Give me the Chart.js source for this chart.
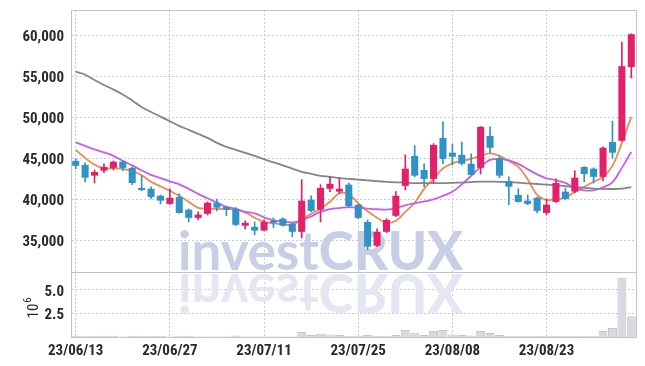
<!DOCTYPE html>
<html>
<head>
<meta charset="utf-8">
<script src="https://cdn.jsdelivr.net/npm/chart.js@4"></script>
<style>
  html, body { margin: 0; padding: 0; background: #fff; }
  #wrap { width: 645px; height: 366px; }
</style>
</head>
<body>
<div id="wrap"><canvas id="chart" width="645" height="366"></canvas></div>
<script>
// trading days shown on the x axis
const dates = [
  '23/06/13', '23/06/14', '23/06/15', '23/06/16', '23/06/19', '23/06/20', '23/06/21', '23/06/22', '23/06/23', '23/06/26',
  '23/06/27', '23/06/28', '23/06/29', '23/06/30', '23/07/03', '23/07/04', '23/07/05', '23/07/06', '23/07/07', '23/07/10',
  '23/07/11', '23/07/12', '23/07/13', '23/07/14', '23/07/17', '23/07/18', '23/07/19', '23/07/20', '23/07/21', '23/07/24',
  '23/07/25', '23/07/26', '23/07/27', '23/07/28', '23/07/31', '23/08/01', '23/08/02', '23/08/03', '23/08/04', '23/08/07',
  '23/08/08', '23/08/09', '23/08/10', '23/08/11', '23/08/14', '23/08/16', '23/08/17', '23/08/18', '23/08/21', '23/08/22',
  '23/08/23', '23/08/24', '23/08/25', '23/08/28', '23/08/29', '23/08/30', '23/08/31', '23/09/01', '23/09/04', '23/09/05'
];

const opens = [
  44650, 44150, 42850, 43450, 43800, 44550, 43800, 41350, 41250, 40400,
  39400, 40250, 38700, 37700, 38200, 39550, 39050, 38800, 36750, 36600,
  36150, 37350, 37600, 37000, 36000, 39900, 38700, 41250, 40900, 41750,
  39300, 37200, 34300, 36000, 37950, 41600, 45250, 43550, 42450, 47450,
  45650, 45400, 44300, 43800, 47700, 45000, 42200, 40500, 39800, 40150,
  38300, 39650, 40900, 40900, 43900, 43700, 42700, 46950, 47100, 56100
];
const closes = [
  44050, 42600, 43300, 43900, 44550, 43800, 41950, 41100, 40250, 39800,
  40150, 38300, 37700, 38100, 39550, 38950, 38700, 36850, 37100, 36150,
  37200, 37100, 36750, 36000, 39800, 38550, 41350, 41850, 41250, 39150,
  37700, 34200, 36000, 37450, 40400, 43700, 42850, 42450, 46600, 44900,
  45150, 44300, 42950, 48800, 46250, 42850, 41500, 39650, 39400, 38550,
  39300, 41950, 40000, 42600, 43050, 42700, 46250, 45650, 56200, 60100
];
const highs = [
  44900, 44400, 43550, 44300, 44650, 44650, 43900, 42850, 41500, 40500,
  41250, 40650, 38800, 38450, 39650, 40000, 39100, 38950, 37350, 37200,
  37450, 37700, 37700, 37100, 42350, 40400, 41750, 42700, 42600, 41950,
  39350, 37450, 36350, 37600, 40900, 45400, 46500, 44300, 46750, 49400,
  46700, 46950, 45500, 48850, 48800, 45250, 42700, 41250, 40500, 40200,
  40000, 42450, 41350, 43450, 43950, 43800, 46350, 49500, 59150, 60150
];
const lows = [
  43700, 42100, 41950, 43200, 43550, 43450, 41750, 41000, 40000, 39400,
  39350, 38250, 37200, 37450, 38050, 38550, 37950, 36750, 36350, 35650,
  36100, 36500, 36700, 35400, 35250, 38450, 37200, 40900, 40650, 39050,
  37600, 33800, 34200, 35900, 37850, 41100, 42700, 41500, 41950, 44300,
  44150, 44150, 42900, 43050, 45650, 42600, 39300, 39600, 39300, 38300,
  38050, 39600, 39900, 40750, 42100, 41950, 42200, 45000, 47050, 54750
];

// moving averages
const ma5 = [
  45990, 45020, 44170, 43740, 43740, 43680, 43430, 42890, 42100, 41550,
  41000, 40390, 39660, 38930, 38810, 38810, 38770, 38690, 38380, 37710,
  37220, 37040, 36920, 36860, 37470, 38200, 38810, 39660, 40700, 40570,
  39480, 38500, 37710, 37100, 37350, 38440, 39540, 41240, 42460, 43740,
  44350, 44650, 44900, 45260, 45570, 45260, 44650, 43920, 42400, 40510,
  39900, 39960, 40150, 40880, 41490, 42100, 42700, 44040, 46850, 50010
];
const ma20 = [
  46910, 46480, 46060, 45690, 45260, 44650, 44100, 43500, 42950, 42550,
  42160, 41790, 41240, 40630, 40090, 39540, 39050, 38810, 38440, 38260,
  37770, 37410, 37250, 37160, 37410, 37890, 38440, 38770, 38890, 39010,
  38930, 38830, 38750, 38710, 38870, 39230, 39480, 39700, 39960, 40390,
  40880, 41790, 42830, 43920, 44780, 44860, 44710, 44290, 43620, 43010,
  42520, 42300, 41970, 41330, 41060, 41060, 41430, 42040, 43800, 45750
];
const ma60 = [
  55530, 55150, 54520, 53910, 53360, 52750, 52020, 51230, 50620, 50050,
  49490, 48920, 48430, 47940, 47460, 46850, 46360, 45990, 45630, 45260,
  44860, 44470, 44110, 43700, 43310, 43070, 42830, 42710, 42560, 42460,
  42360, 42280, 42180, 42100, 42040, 42000, 41950, 41940, 41940, 41940,
  41970, 42010, 42070, 42120, 42120, 42100, 42060, 42000, 41910, 41830,
  41760, 41680, 41580, 41460, 41380, 41260, 41230, 41220, 41260, 41460
];

// volume in millions of shares
const volumes = [
  0.10, 0.10, 0.10, 0.12, 0.12, 0.05, 0.12, 0.12, 0.10, 0.10,
  0.05, 0.12, 0.12, 0.05, 0.05, 0.05, 0.05, 0.15, 0.05, 0.05,
  0.05, 0.05, 0.05, 0.05, 0.53, 0.21, 0.35, 0.27, 0.20, 0.10,
  0.10, 0.21, 0.10, 0.10, 0.21, 0.74, 0.46, 0.21, 0.64, 0.74,
  0.27, 0.21, 0.16, 0.64, 0.43, 0.21, 0.10, 0.10, 0.10, 0.10,
  0.10, 0.10, 0.10, 0.10, 0.10, 0.10, 0.64, 0.96, 6.28, 2.19
];

const priceTicks = [35000, 40000, 45000, 50000, 55000, 60000];
const volumeTicks = [2.5, 5.0];

const UP = '#e5206a';
const DOWN = '#2f93c8';
const GRID = '#c9c9df';
const AXIS = '#c2c2ca';
const FONT = "'Liberation Sans Narrow', 'Roboto Condensed', 'Liberation Sans', sans-serif";
const TICK_FONT = { family: FONT, size: 15, weight: 'bold' };

const candleColors = closes.map((c, i) => c >= opens[i] ? UP : DOWN);

const watermark = {
  id: 'watermark',
  beforeDatasetsDraw(chart) {
    const { ctx, chartArea: a } = chart;
    const base = chart.scales.y.bottom - 2;
    const drawWord = (color) => {
      ctx.fillStyle = color;
      ctx.font = 'bold 53px Lato';
      const w1 = ctx.measureText('invest').width;
      ctx.font = '900 53px Lato';
      const w2 = ctx.measureText('CRUX').width;
      const sx = 285 / (w1 + w2);
      ctx.save();
      ctx.translate(178, 0);
      ctx.scale(sx, 1);
      ctx.font = 'bold 53px Lato';
      ctx.fillText('invest', 0, base);
      ctx.font = '900 53px Lato';
      ctx.fillText('CRUX', w1, base);
      ctx.restore();
    };
    ctx.save();
    ctx.beginPath();
    ctx.rect(a.left, a.top, a.right - a.left, base - a.top + 2);
    ctx.clip();
    drawWord('#c8cee5');
    ctx.restore();

    ctx.save();
    ctx.beginPath();
    ctx.rect(a.left, base + 3, a.right - a.left, a.bottom - base - 3);
    ctx.clip();
    ctx.translate(0, 2 * base + 4);
    ctx.scale(1, -1);
    drawWord('#e4e6f1');
    ctx.restore();
  }
};

const frame = {
  id: 'frame',
  afterDatasetsDraw(chart) {
    const { ctx, chartArea: a } = chart;
    const sep = Math.round(chart.scales.y.bottom) + 0.5;
    ctx.save();
    ctx.strokeStyle = AXIS;
    ctx.lineWidth = 1;
    ctx.beginPath();
    ctx.moveTo(a.left, Math.round(a.top) + 0.5);
    ctx.lineTo(Math.round(a.right) + 0.5, Math.round(a.top) + 0.5);
    ctx.lineTo(Math.round(a.right) + 0.5, a.bottom);
    ctx.moveTo(a.left, sep);
    ctx.lineTo(a.right, sep);
    ctx.stroke();

    // exponent label of the volume axis
    const yv = chart.scales.yv;
    ctx.translate(38, (yv.top + yv.bottom) / 2 + 14);
    ctx.rotate(-Math.PI / 2);
    ctx.fillStyle = '#2a2a2a';
    ctx.textBaseline = 'alphabetic';
    ctx.font = '15px ' + FONT;
    ctx.fillText('10', 0, 0);
    const w = ctx.measureText('10').width;
    ctx.font = '11px ' + FONT;
    ctx.fillText('6', w + 1, -7);
    ctx.restore();
  }
};

const lineSet = (label, data, color) => ({
  type: 'line',
  label,
  data,
  yAxisID: 'y',
  borderColor: color,
  borderWidth: 1.8,
  pointRadius: 0,
  tension: 0.35,
  order: 5
});

const fitLeft = (s) => { s.width = 71; s.paddingTop = 0; s.paddingBottom = 0; };

new Chart(document.getElementById('chart'), {
  type: 'bar',
  data: {
    labels: dates,
    datasets: [
      {
        label: 'wick',
        data: lows.map((l, i) => [l, highs[i]]),
        yAxisID: 'y',
        backgroundColor: candleColors,
        barThickness: 1,
        grouped: false,
        order: 2
      },
      {
        label: 'body',
        data: opens.map((o, i) => [o, closes[i]]),
        yAxisID: 'y',
        backgroundColor: candleColors,
        barPercentage: 0.75,
        categoryPercentage: 1,
        grouped: false,
        order: 1
      },
      lineSet('MA60', ma60, '#858585'),
      lineSet('MA20', ma20, '#c85cec'),
      lineSet('MA5', ma5, '#f08a4c'),
      {
        label: 'volume',
        data: volumes,
        yAxisID: 'yv',
        backgroundColor: '#d9d9df',
        borderColor: '#c4c4cc',
        borderWidth: 1,
        barPercentage: 0.95,
        categoryPercentage: 1,
        grouped: false,
        order: 3
      }
    ]
  },
  options: {
    responsive: false,
    animation: false,
    layout: { padding: { left: 0, right: 9, top: 10, bottom: 0 } },
    plugins: { legend: { display: false }, tooltip: { enabled: false } },
    scales: {
      x: {
        type: 'category',
        offset: true,
        afterFit: (s) => { s.height = 29; s.paddingLeft = 0; s.paddingRight = 0; },
        grid: {
          offset: false,
          drawTicks: false,
          color: (ctx) => ctx.index % 10 === 0 ? GRID : 'transparent'
        },
        border: { color: AXIS, dash: [2, 2] },
        ticks: {
          autoSkip: false,
          maxRotation: 0,
          padding: 5,
          color: '#2a2a2a',
          font: TICK_FONT,
          callback: (v, i) => i % 10 === 0 ? dates[i] : ''
        }
      },
      yv: {
        position: 'left',
        stack: 'panes',
        stackWeight: 65,
        min: 0,
        max: 6.9,
        afterBuildTicks: (s) => { s.ticks = volumeTicks.map(v => ({ value: v })); },
        afterFit: fitLeft,
        grid: { color: GRID, drawTicks: false },
        border: { color: AXIS, dash: [2, 2] },
        ticks: {
          padding: 7,
          labelOffset: 2,
          color: '#2a2a2a',
          font: TICK_FONT,
          callback: (v) => v.toFixed(1)
        }
      },
      y: {
        position: 'left',
        stack: 'panes',
        stackWeight: 262,
        min: 31100,
        max: 63050,
        afterBuildTicks: (s) => { s.ticks = priceTicks.map(v => ({ value: v })); },
        afterFit: fitLeft,
        grid: { color: GRID, drawTicks: false },
        border: { color: AXIS, dash: [2, 2] },
        ticks: {
          padding: 7,
          labelOffset: 2,
          color: '#2a2a2a',
          font: TICK_FONT,
          callback: (v) => v.toLocaleString('en-US')
        }
      }
    }
  },
  plugins: [watermark, frame]
});
</script>
</body>
</html>
